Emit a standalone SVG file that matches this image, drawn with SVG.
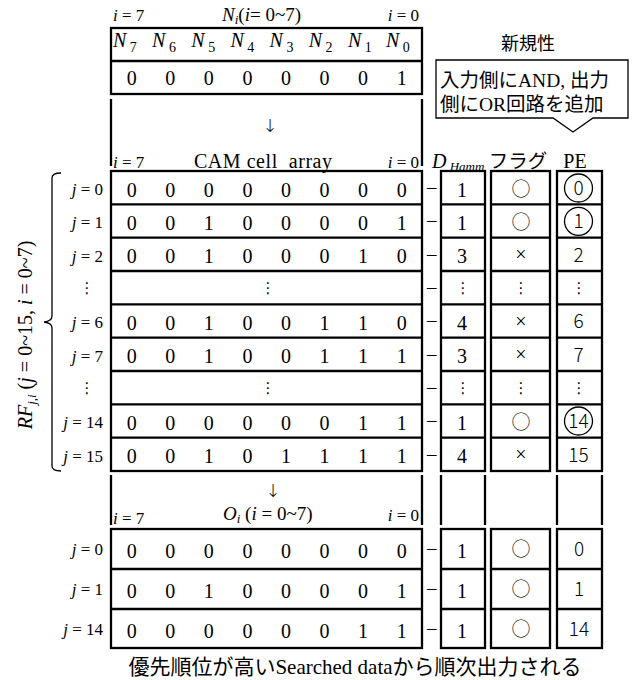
<svg xmlns="http://www.w3.org/2000/svg" width="641" height="680" viewBox="0 0 641 680">
<style>
.s{font-family:"Liberation Serif","Noto Sans CJK JP",serif;fill:#000}
.d{font-size:20px;text-anchor:middle}
.it{font-style:italic}
.lab{font-size:17px;text-anchor:end}
.hd{font-size:17px}
.pe{font-family:"Noto Sans CJK JP","DejaVu Sans",sans-serif;font-weight:300;font-size:19px;text-anchor:middle;fill:#000}
.jp{font-family:"Liberation Serif","Noto Sans CJK JP",sans-serif;font-size:19.5px;fill:#000}
.dots{font-family:"DejaVu Sans",sans-serif;font-size:15px;text-anchor:middle;fill:#000}
.fl{font-family:"Noto Sans CJK JP",sans-serif;font-weight:300;font-size:19px;text-anchor:middle;fill:#000}
.arr{font-family:"DejaVu Sans",sans-serif;font-weight:200;font-size:18px;text-anchor:middle;fill:#000;font-variant-emoji:text}
.box{fill:none;stroke:#000;stroke-width:2.3}
.ln{stroke:#000;stroke-width:2.3;fill:none}
.thin{fill:none;stroke:#000;stroke-width:1.3}
</style>

<!-- headers -->
<g id="header-top">
<text class="s hd" x="113" y="21"><tspan class="it">i</tspan> = 7</text>
<text class="s" x="222" y="21" font-size="19"><tspan class="it">N</tspan><tspan class="it" font-size="13" dy="3">i</tspan><tspan dy="-3">(</tspan><tspan class="it">i</tspan>= 0~7)</text>
<text class="s hd" x="419" y="21" text-anchor="end"><tspan class="it">i</tspan> = 0</text>
</g>

<g id="input-N">
<rect class="box" x="111" y="28" width="311" height="66"/>
<line class="ln" x1="111" y1="61" x2="422" y2="61"/>
<g class="s it" font-size="20">
<text x="113" y="47">N<tspan font-size="14" font-style="normal" dy="5"> 7</tspan></text>
<text x="152.1" y="47">N<tspan font-size="14" font-style="normal" dy="5"> 6</tspan></text>
<text x="191.3" y="47">N<tspan font-size="14" font-style="normal" dy="5"> 5</tspan></text>
<text x="230.4" y="47">N<tspan font-size="14" font-style="normal" dy="5"> 4</tspan></text>
<text x="269.6" y="47">N<tspan font-size="14" font-style="normal" dy="5"> 3</tspan></text>
<text x="308.7" y="47">N<tspan font-size="14" font-style="normal" dy="5"> 2</tspan></text>
<text x="347.9" y="47">N<tspan font-size="14" font-style="normal" dy="5"> 1</tspan></text>
<text x="386" y="47">N<tspan font-size="14" font-style="normal" dy="5"> 0</tspan></text>
</g>
<g class="s d">
<text x="131.7" y="85">0</text><text x="170.3" y="85">0</text><text x="208.8" y="85">0</text><text x="247.4" y="85">0</text><text x="286" y="85">0</text><text x="324.5" y="85">0</text><text x="363.1" y="85">0</text><text x="401.7" y="85">1</text>
</g>
</g>

<g id="novelty">
<text class="s" x="528" y="50" font-size="18" text-anchor="middle">新規性</text>
<path class="thin" d="M436,60 H628 V118 H593 L573,132 L553,118 H436 Z"/>
<text class="jp" x="440" y="87">入力側にAND, 出力</text>
<text class="jp" x="440" y="111">側にOR回路を追加</text>
</g>

<g id="header-cam">
<text class="arr" x="270" y="132">↓</text>
<text class="s hd" x="113" y="168"><tspan class="it">i</tspan> = 7</text>
<text class="s" x="194" y="168" font-size="20" xml:space="preserve" textLength="138" lengthAdjust="spacing">CAM cell  array</text>
<text class="s hd" x="419" y="168" text-anchor="end"><tspan class="it">i</tspan> = 0</text>
<text class="s it" x="432" y="168" font-size="20">D<tspan font-size="13" dy="3"> Hamm</tspan></text>
<text class="jp" x="518" y="168" text-anchor="middle">フラグ</text>
<text class="s" x="575" y="168" font-size="20" text-anchor="middle">PE</text>
</g>

<!-- side label and brace -->
<g id="rf-label">
<text class="s" x="32" y="335" font-size="20" text-anchor="middle" transform="rotate(-90 32 335)"><tspan class="it">RF</tspan><tspan class="it" font-size="13" dy="4">j,i</tspan><tspan dy="-4"> (</tspan><tspan class="it">j</tspan> = 0~15, <tspan class="it">i</tspan> = 0~7)</text>
<path class="thin" d="M61,173 Q52,173 52,178 V316 Q52,321 44,322 Q52,323 52,328 V466 Q52,471 61,471"/>
</g>

<g id="cam-array">
<rect class="box" x="111" y="171" width="311" height="300"/>
<path class="ln" d="M111,204.3H422M111,237.7H422M111,271H422M111,304.3H422M111,337.7H422M111,371H422M111,404.3H422M111,437.7H422"/>
<g class="s lab">
<text x="103" y="195"><tspan class="it">j</tspan> = 0</text>
<text x="103" y="228.3"><tspan class="it">j</tspan> = 1</text>
<text x="103" y="261.6"><tspan class="it">j</tspan> = 2</text>
<text x="103" y="328.3"><tspan class="it">j</tspan> = 6</text>
<text x="103" y="361.6"><tspan class="it">j</tspan> = 7</text>
<text x="103" y="428.3"><tspan class="it">j</tspan> = 14</text>
<text x="103" y="461.6"><tspan class="it">j</tspan> = 15</text>
</g>
<text class="dots" x="87" y="293">⋮</text>
<text class="dots" x="87" y="393">⋮</text>
<text class="dots" x="268" y="293">⋮</text>
<text class="dots" x="268" y="393">⋮</text>
<g class="s d">
<text x="131.7" y="196.7">0</text><text x="170.3" y="196.7">0</text><text x="208.8" y="196.7">0</text><text x="247.4" y="196.7">0</text><text x="286" y="196.7">0</text><text x="324.5" y="196.7">0</text><text x="363.1" y="196.7">0</text><text x="401.7" y="196.7">0</text>
<text x="131.7" y="230">0</text><text x="170.3" y="230">0</text><text x="208.8" y="230">1</text><text x="247.4" y="230">0</text><text x="286" y="230">0</text><text x="324.5" y="230">0</text><text x="363.1" y="230">0</text><text x="401.7" y="230">1</text>
<text x="131.7" y="263.3">0</text><text x="170.3" y="263.3">0</text><text x="208.8" y="263.3">1</text><text x="247.4" y="263.3">0</text><text x="286" y="263.3">0</text><text x="324.5" y="263.3">0</text><text x="363.1" y="263.3">1</text><text x="401.7" y="263.3">0</text>
<text x="131.7" y="330">0</text><text x="170.3" y="330">0</text><text x="208.8" y="330">1</text><text x="247.4" y="330">0</text><text x="286" y="330">0</text><text x="324.5" y="330">1</text><text x="363.1" y="330">1</text><text x="401.7" y="330">0</text>
<text x="131.7" y="363.3">0</text><text x="170.3" y="363.3">0</text><text x="208.8" y="363.3">1</text><text x="247.4" y="363.3">0</text><text x="286" y="363.3">0</text><text x="324.5" y="363.3">1</text><text x="363.1" y="363.3">1</text><text x="401.7" y="363.3">1</text>
<text x="131.7" y="430">0</text><text x="170.3" y="430">0</text><text x="208.8" y="430">0</text><text x="247.4" y="430">0</text><text x="286" y="430">0</text><text x="324.5" y="430">0</text><text x="363.1" y="430">1</text><text x="401.7" y="430">1</text>
<text x="131.7" y="463.3">0</text><text x="170.3" y="463.3">0</text><text x="208.8" y="463.3">1</text><text x="247.4" y="463.3">0</text><text x="286" y="463.3">1</text><text x="324.5" y="463.3">1</text><text x="363.1" y="463.3">1</text><text x="401.7" y="463.3">1</text>
</g>
</g>

<g id="connectors">
<path class="ln" d="M111,99V166M422,99V166"/>
<path class="ln" d="M111,475V525M422,475V525M441,475V525M485,475V525M557,475V525M602,475V525"/>
<g class="s" font-size="19" text-anchor="middle">
<text x="431.7" y="193">–</text><text x="431.7" y="226.3">–</text><text x="431.7" y="259.6">–</text><text x="431.7" y="293">–</text><text x="431.7" y="326.3">–</text><text x="431.7" y="359.6">–</text><text x="431.7" y="393">–</text><text x="431.7" y="426.3">–</text><text x="431.7" y="459.6">–</text>
<text x="431.7" y="554">–</text><text x="431.7" y="594">–</text><text x="431.7" y="634">–</text>
</g>
</g>

<g id="dhamm">
<rect class="box" x="441" y="171" width="44" height="300"/>
<path class="ln" d="M441,204.3H485M441,237.7H485M441,271H485M441,304.3H485M441,337.7H485M441,371H485M441,404.3H485M441,437.7H485"/>
<g class="s d">
<text x="462" y="196.7">1</text><text x="462" y="230">1</text><text x="462" y="263.3">3</text><text x="462" y="330">4</text><text x="462" y="363.3">3</text><text x="462" y="430">1</text><text x="462" y="463.3">4</text>
</g>
<text class="dots" x="463" y="293">⋮</text><text class="dots" x="463" y="393">⋮</text>
</g>

<g id="flag">
<rect class="box" x="491" y="171" width="59" height="300"/>
<path class="ln" d="M491,204.3H550M491,237.7H550M491,271H550M491,304.3H550M491,337.7H550M491,371H550M491,404.3H550M491,437.7H550"/>
<text class="fl" x="521" y="195.5">○</text><text class="fl" x="521" y="228.8">○</text><text class="fl" x="521" y="428.8">○</text>
<g class="s d" font-size="18"><text x="521" y="261">×</text><text x="521" y="327.7">×</text><text x="521" y="361">×</text><text x="521" y="461">×</text></g>
<text class="dots" x="521" y="293">⋮</text><text class="dots" x="521" y="393">⋮</text>
</g>

<g id="pe">
<rect class="box" x="557" y="171" width="45" height="300"/>
<path class="ln" d="M557,204.3H602M557,237.7H602M557,271H602M557,304.3H602M557,337.7H602M557,371H602M557,404.3H602M557,437.7H602"/>
<circle class="thin" cx="578.5" cy="188" r="14"/><circle class="thin" cx="578.5" cy="221.3" r="14"/><circle class="thin" cx="578.5" cy="421" r="14"/>
<text class="pe" x="578.5" y="195">0</text><text class="pe" x="578.5" y="228.3">1</text><text class="pe" x="578.5" y="261.6">2</text><text class="pe" x="578.5" y="328.3">6</text><text class="pe" x="578.5" y="361.6">7</text><text class="pe" x="578.5" y="428.3" font-size="17">14</text><text class="pe" x="578.5" y="461.6">15</text>
<text class="dots" x="579" y="293">⋮</text><text class="dots" x="579" y="393">⋮</text>
</g>

<g id="header-out">
<text class="arr" x="273" y="497">↓</text>
<text class="s hd" x="113" y="524"><tspan class="it">i</tspan> = 7</text>
<text class="s" x="223" y="520" font-size="19"><tspan class="it">O</tspan><tspan class="it" font-size="13" dy="3">i</tspan><tspan dy="-3"> (</tspan><tspan class="it">i</tspan> = 0~7)</text>
<text class="s hd" x="419" y="521" text-anchor="end"><tspan class="it">i</tspan> = 0</text>
</g>

<g id="output">
<rect class="box" x="111" y="529" width="311" height="119"/>
<path class="ln" d="M111,569H422M111,609H422"/>
<g class="s lab">
<text x="103" y="555"><tspan class="it">j</tspan> = 0</text>
<text x="103" y="595"><tspan class="it">j</tspan> = 1</text>
<text x="103" y="635"><tspan class="it">j</tspan> = 14</text>
</g>
<g class="s d">
<text x="131.7" y="557.5">0</text><text x="170.3" y="557.5">0</text><text x="208.8" y="557.5">0</text><text x="247.4" y="557.5">0</text><text x="286" y="557.5">0</text><text x="324.5" y="557.5">0</text><text x="363.1" y="557.5">0</text><text x="401.7" y="557.5">0</text>
<text x="131.7" y="597.5">0</text><text x="170.3" y="597.5">0</text><text x="208.8" y="597.5">1</text><text x="247.4" y="597.5">0</text><text x="286" y="597.5">0</text><text x="324.5" y="597.5">0</text><text x="363.1" y="597.5">0</text><text x="401.7" y="597.5">1</text>
<text x="131.7" y="637.5">0</text><text x="170.3" y="637.5">0</text><text x="208.8" y="637.5">0</text><text x="247.4" y="637.5">0</text><text x="286" y="637.5">0</text><text x="324.5" y="637.5">0</text><text x="363.1" y="637.5">1</text><text x="401.7" y="637.5">1</text>
</g>
</g>

<g id="output-dhamm">
<rect class="box" x="441" y="529" width="44" height="119"/>
<path class="ln" d="M441,569H485M441,609H485"/>
<g class="s d"><text x="462" y="557.5">1</text><text x="462" y="597.5">1</text><text x="462" y="637.5">1</text></g>
</g>
<g id="output-flag">
<rect class="box" x="491" y="529" width="59" height="119"/>
<path class="ln" d="M491,569H550M491,609H550"/>
<text class="fl" x="521" y="555.5">○</text><text class="fl" x="521" y="595.5">○</text><text class="fl" x="521" y="635.5">○</text>
</g>
<g id="output-pe">
<rect class="box" x="557" y="529" width="45" height="119"/>
<path class="ln" d="M557,569H602M557,609H602"/>
<text class="pe" x="579" y="556">0</text><text class="pe" x="579" y="596">1</text><text class="pe" x="579" y="636">14</text>
</g>

<text class="s" x="355" y="674" font-size="21" text-anchor="middle">優先順位が高いSearched dataから順次出力される</text>
</svg>
